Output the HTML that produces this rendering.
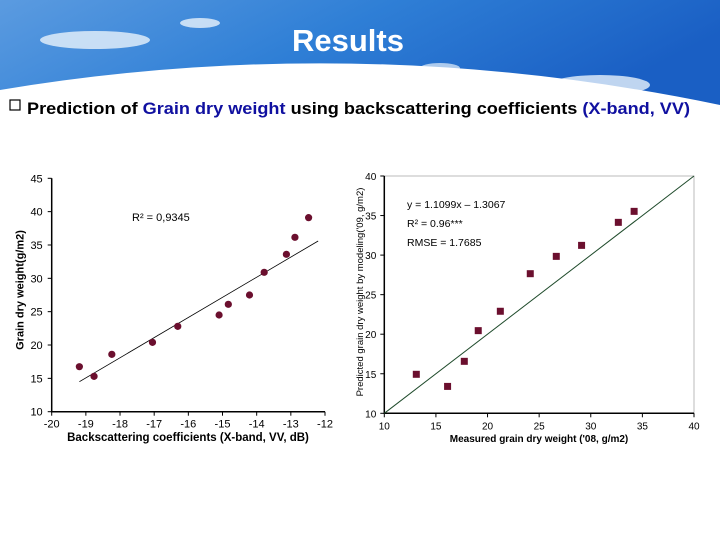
<!DOCTYPE html>
<html><head><meta charset="utf-8"><style>
body{margin:0;width:720px;height:540px;overflow:hidden;background:#fff;font-family:"Liberation Sans",sans-serif}
svg{display:block}
</style></head><body>
<svg id="s" width="720" height="540" viewBox="0 0 720 540" xmlns="http://www.w3.org/2000/svg">
<defs>
<linearGradient id="sky" x1="0" y1="0" x2="1" y2="0.3">
<stop offset="0" stop-color="#5b9be0"/><stop offset="0.5" stop-color="#2f7fd6"/><stop offset="1" stop-color="#1a5fc4"/>
</linearGradient>
</defs>
<g>
<rect x="0" y="0" width="720" height="110" fill="url(#sky)"/>
<ellipse cx="95" cy="40" rx="55" ry="9" fill="#e8f2fb" opacity="0.8"/>
<ellipse cx="200" cy="23" rx="20" ry="5" fill="#e8f2fb" opacity="0.8"/>
<ellipse cx="600" cy="85" rx="50" ry="10" fill="#e8f2fb" opacity="0.8"/>
<ellipse cx="440" cy="68" rx="20" ry="5" fill="#e8f2fb" opacity="0.7"/>
<path d="M0,90 Q360,30 720,105 L720,130 L0,130 Z" fill="#fff"/>
<text x="348" y="51" text-anchor="middle" font-size="31" font-weight="bold" fill="#fff">Results</text>
</g>
<g font-size="17" font-weight="bold">
<rect x="10" y="100" width="10" height="10" fill="none" stroke="#000" stroke-width="1.2"/>
<text x="27" y="114" textLength="663" lengthAdjust="spacingAndGlyphs">Prediction of <tspan fill="#1010a0">Grain dry weight</tspan> using backscattering coefficients <tspan fill="#1010a0">(X-band, VV)</tspan></text>
</g>
<g id="left"></g>
<g id="right"></g>
</svg>
<script>
const NS="http://www.w3.org/2000/svg";
// Left chart data
const leftX=[-19.19,-18.76,-18.24,-17.05,-16.31,-15.1,-14.83,-14.21,-13.78,-13.13,-12.88,-12.48];
const leftY=[16.75,15.3,18.6,20.4,22.8,24.5,26.1,27.5,30.9,33.6,36.15,39.1];
const leftXTicks=[-20,-19,-18,-17,-16,-15,-14,-13,-12];
const leftYTicks=[10,15,20,25,30,35,40,45];
const leftTrendX=[-19.19,-12.2];
const leftTrendY=[14.5,35.6];
// Right chart data
const rightX=[13.1,16.13,17.75,19.1,21.24,24.14,26.66,29.11,32.67,34.2];
const rightY=[14.93,13.4,16.57,20.45,22.9,27.65,29.84,31.23,34.14,35.53];
const rightXTicks=[10,15,20,25,30,35,40];
const rightYTicks=[10,15,20,25,30,35,40];
const oneToOne=[10,40];

function el(p,t,a){const e=document.createElementNS(NS,t);for(const k in a)e.setAttribute(k,a[k]);p.appendChild(e);return e;}
function txt(p,x,y,s,a){const e=el(p,'text',Object.assign({x:x,y:y,'font-size':11},a||{}));e.textContent=s;return e;}

// Left
(function(){
const g=document.getElementById('left');
const x0=51.7,x1=325,y0=411.7,y1=178.3;
const sx=v=>x0+(v+20)/8*(x1-x0), sy=v=>y0-(v-10)/35*(y0-y1);
const ax=el(g,'path',{d:`M${x0},${y1} V${y0} H${x1}`,stroke:'#000','stroke-width':1.5,fill:'none'});

leftYTicks.forEach(v=>{el(g,'line',{x1:x0-4,x2:x0,y1:sy(v),y2:sy(v),stroke:'#000'});
const t=txt(g,x0-9,sy(v)+4,String(v),{'text-anchor':'end'});});
leftXTicks.forEach(v=>{el(g,'line',{x1:sx(v),x2:sx(v),y1:y0,y2:y0+4,stroke:'#000'});
const t=txt(g,sx(v),y0+16,String(v),{'text-anchor':'middle'});});
const tr=el(g,'line',{x1:sx(leftTrendX[0]),y1:sy(leftTrendY[0]),x2:sx(leftTrendX[1]),y2:sy(leftTrendY[1]),stroke:'#000','stroke-width':0.8});

leftX.forEach((v,i)=>{const c=el(g,'circle',{cx:sx(v),cy:sy(leftY[i]),r:3.6,fill:'#6b0f2e'});
});
const r2=txt(g,132,221,'R² = 0,9345',{});
const xt=txt(g,188,441,'Backscattering coefficients (X-band, VV, dB)',{'text-anchor':'middle','font-weight':'bold','font-size':11.5});

const yt=txt(g,0,0,'Grain dry weight(g/m2)',{'text-anchor':'middle','font-weight':'bold','font-size':11,transform:'translate(23.5,290) rotate(-90)'});

})();

// Right
(function(){
const g=document.getElementById('right');
const x0=384.3,x1=694,y0=413.3,y1=176;
const sx=v=>x0+(v-10)/30*(x1-x0), sy=v=>y0-(v-10)/30*(y0-y1);
const fr=el(g,'rect',{x:x0,y:y1,width:x1-x0,height:y0-y1,fill:'none',stroke:'#bbb','stroke-width':1});

const ax=el(g,'path',{d:`M${x0},${y1} V${y0} H${x1}`,stroke:'#000','stroke-width':1.5,fill:'none'});

rightYTicks.forEach(v=>{el(g,'line',{x1:x0-4,x2:x0,y1:sy(v),y2:sy(v),stroke:'#000'});
const t=txt(g,x0-8,sy(v)+4,String(v),{'text-anchor':'end','font-size':10});});
rightXTicks.forEach(v=>{el(g,'line',{x1:sx(v),x2:sx(v),y1:y0,y2:y0+4,stroke:'#000'});
const t=txt(g,sx(v),y0+16,String(v),{'text-anchor':'middle','font-size':10});});
const ln=el(g,'line',{x1:sx(oneToOne[0]),y1:sy(oneToOne[0]),x2:sx(oneToOne[1]),y2:sy(oneToOne[1]),stroke:'#1e4a2a','stroke-width':1});

rightX.forEach((v,i)=>{const r=el(g,'rect',{x:sx(v)-3.5,y:sy(rightY[i])-3.5,width:7,height:7,fill:'#6b0f2e'});
});
[['y = 1.1099x – 1.3067',208],['R² = 0.96***',227],['RMSE = 1.7685',246]].forEach(a=>{const t=txt(g,407,a[1],a[0],{'font-size':10.5});
});
const xt=txt(g,539,442,"Measured grain dry weight ('08, g/m2)",{'text-anchor':'middle','font-weight':'bold','font-size':10});

const yt=txt(g,0,0,"Predicted grain dry weight by modeling('09, g/m2)",{'text-anchor':'middle','font-size':9.5,transform:'translate(363,292) rotate(-90)'});

})();
</script>
</body></html>
